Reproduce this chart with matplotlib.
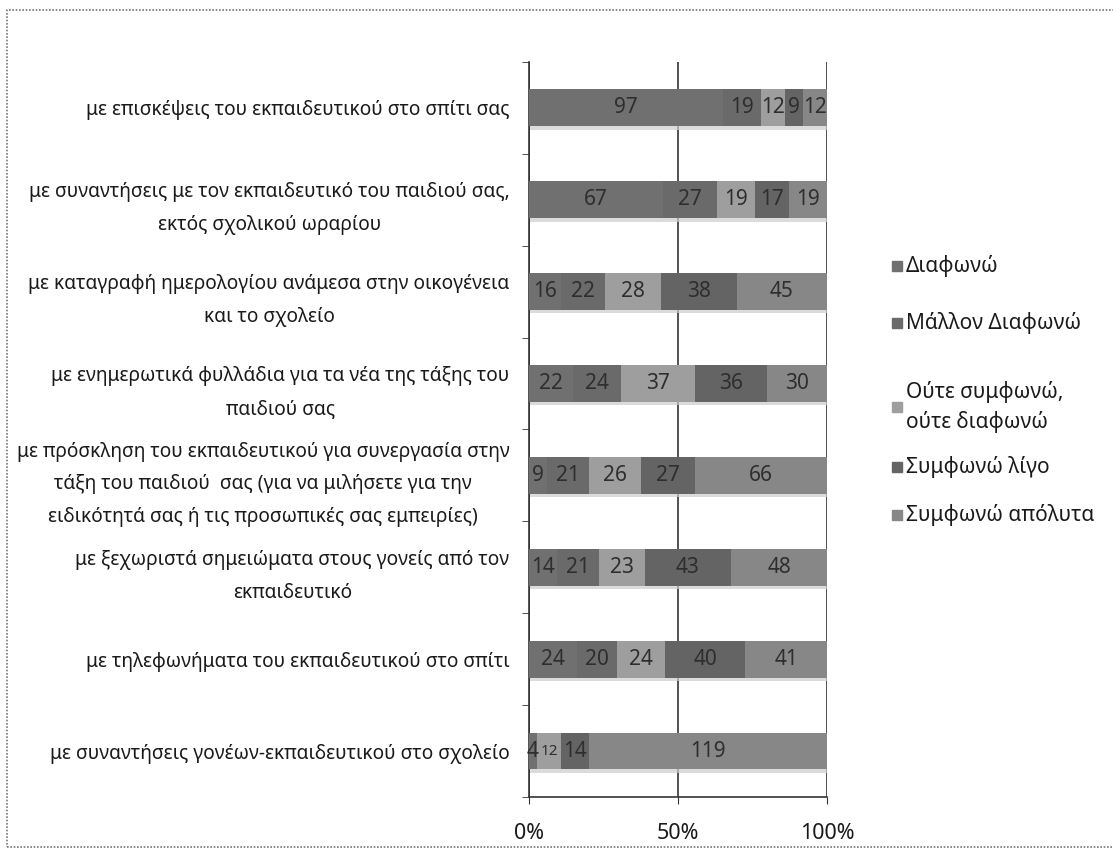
import matplotlib.pyplot as plt
import matplotlib.patheffects as pe
from matplotlib.patches import Rectangle
import numpy as np

plt.rcParams['font.family'] = ['Noto Sans', 'DejaVu Sans']

categories = [
    "με επισκέψεις του εκπαιδευτικού στο σπίτι σας",
    "με συναντήσεις με τον εκπαιδευτικό του παιδιού σας,\nεκτός σχολικού ωραρίου",
    "με καταγραφή ημερολογίου ανάμεσα στην οικογένεια\nκαι το σχολείο",
    "με ενημερωτικά φυλλάδια για τα νέα της τάξης του\nπαιδιού σας",
    "με πρόσκληση του εκπαιδευτικού για συνεργασία στην\nτάξη του παιδιού  σας (για να μιλήσετε για την\nειδικότητά σας ή τις προσωπικές σας εμπειρίες)",
    "με ξεχωριστά σημειώματα στους γονείς από τον\nεκπαιδευτικό",
    "με τηλεφωνήματα του εκπαιδευτικού στο σπίτι",
    "με συναντήσεις γονέων-εκπαιδευτικού στο σχολείο",
]

series_names = ["Διαφωνώ", "Μάλλον Διαφωνώ", "Ούτε συμφωνώ,\nούτε διαφωνώ",
                "Συμφωνώ λίγο", "Συμφωνώ απόλυτα"]

diafono        = [97, 67, 16, 22, 9, 14, 24, 4]
mallon_diafono = [19, 27, 22, 24, 21, 21, 20, 0]
oute           = [12, 19, 28, 37, 26, 23, 24, 12]
symfono_ligo   = [9, 17, 38, 36, 27, 43, 40, 14]
symfono_apol   = [12, 19, 45, 30, 66, 48, 41, 119]

colors = ['#707070', '#6a6a6a', '#9e9e9e', '#646464', '#878787']

data = np.array([diafono, mallon_diafono, oute, symfono_ligo, symfono_apol], dtype=float)
totals = data.sum(axis=0)
shares = data / totals

fig = plt.figure(figsize=(11.13, 8.49), dpi=100)
ax = fig.add_axes([0.4753, 0.0612, 0.2678, 0.866])

y = np.arange(len(categories))
left = np.zeros(len(categories))
shadow = [pe.SimplePatchShadow(offset=(0.5, -2.5), shadow_rgbFace='#cdcdcd', alpha=0.7), pe.Normal()]
for i in range(len(series_names)):
    bars = ax.barh(y, shares[i], left=left, height=0.4, color=colors[i], zorder=3,
                   path_effects=shadow)
    for j, b in enumerate(bars):
        if data[i, j] > 0:
            # the squeezed label in the last row is printed smaller in the original
            fs = 11 if (j == len(categories) - 1 and i == 2) else 15
            ax.text(left[j] + shares[i, j] / 2, y[j], f"{int(data[i, j])}",
                    ha='center', va='center', fontsize=fs, color='#2e2e2e', zorder=4)
    left += shares[i]

ax.set_ylim(len(categories) - 0.5, -0.5)
ax.set_xlim(0, 1)
ax.set_yticks(y)
ax.set_yticklabels(categories, fontsize=13.8, color='#1a1a1a')
for lbl in ax.get_yticklabels():
    lbl.set_multialignment('center')
    lbl.set_linespacing(1.85)
ax.tick_params(axis='y', length=0, pad=14)
ax.set_yticks(np.arange(-0.5, len(categories)), minor=True)
ax.tick_params(axis='y', which='minor', length=5, color='#333333')

ax.set_xticks([0, 0.5, 1])
ax.set_xticklabels(['0%', '50%', '100%'], fontsize=15.5, color='#1a1a1a')
ax.tick_params(axis='x', length=5, pad=14, color='#333333')

ax.xaxis.grid(True, color='#333333', linewidth=1.2, zorder=0)
ax.set_axisbelow(True)
for s in ['top', 'right']:
    ax.spines[s].set_visible(False)
for s in ['left', 'bottom']:
    ax.spines[s].set_color('#333333')
    ax.spines[s].set_linewidth(1.2)

# legend placed by hand to follow the original spacing
legend_y = [266, 323, 407, 467, 515]
for name, c, ly in zip(series_names, colors, legend_y):
    yf = 1 - ly / 849
    fig.patches.append(Rectangle((892 / 1113, yf - 5 / 849), 10 / 1113, 10 / 849,
                                 transform=fig.transFigure, color=c))
    fig.text(906 / 1113, yf, name, fontsize=15, color='#1a1a1a', va='center', ha='left',
             linespacing=1.45)

# outer chart border
fig.patches.append(Rectangle((7 / 1113, 2 / 849), 1.2, 1 - 12 / 849, transform=fig.transFigure,
                             fill=False, edgecolor='#777777', linewidth=1.2, linestyle=(0, (1, 1))))

fig.savefig('out.png', dpi=100)
